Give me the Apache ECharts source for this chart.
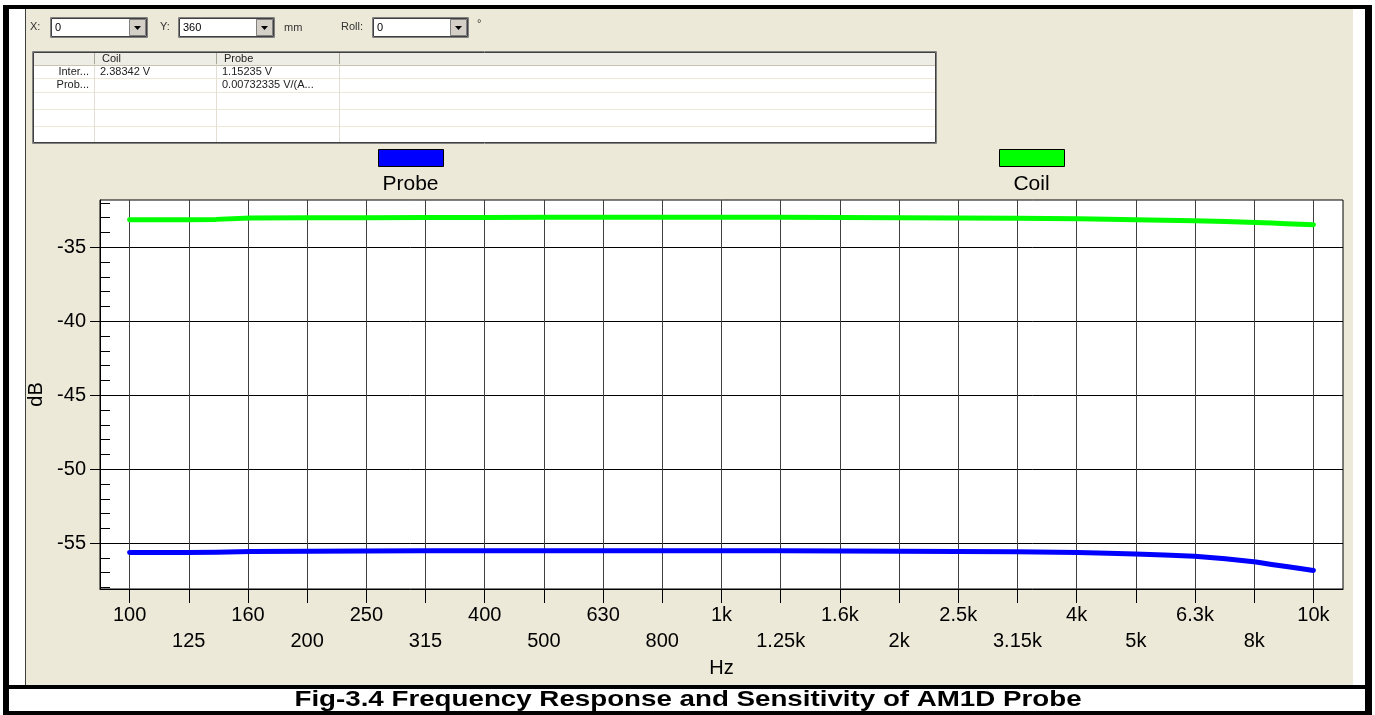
<!DOCTYPE html>
<html><head><meta charset="utf-8">
<script src="https://cdn.jsdelivr.net/npm/echarts@6/dist/echarts.min.js"></script>
<style>html,body{margin:0;padding:0;background:#fff}#c{width:1375px;height:715px}</style>
</head><body><div id="c"></div>
<script>
// ---------- data ----------
const freqs   = [100,125,140,160,200,250,315,400,500,630,800,1000,1250,1600,2000,2500,3150,4000,4500,5000,5600,6300,7100,8000,8500,9000,9500,10000];
const coilDb  = [-33.14,-33.13,-33.11,-33.02,-33.00,-33.00,-32.99,-32.98,-32.97,-32.96,-32.96,-32.96,-32.97,-32.98,-33.00,-33.02,-33.03,-33.07,-33.10,-33.13,-33.17,-33.21,-33.26,-33.32,-33.36,-33.41,-33.44,-33.47];
const probeDb = [-55.64,-55.63,-55.62,-55.56,-55.54,-55.53,-55.52,-55.52,-55.51,-55.51,-55.51,-55.51,-55.52,-55.53,-55.55,-55.57,-55.59,-55.63,-55.68,-55.74,-55.80,-55.88,-56.06,-56.28,-56.44,-56.58,-56.72,-56.85];
const bandFreqs  = [100,125,160,200,250,315,400,500,630,800,1000,1250,1600,2000,2500,3150,4000,5000,6300,8000,10000];
const bandLabels = ['100','125','160','200','250','315','400','500','630','800','1k','1.25k','1.6k','2k','2.5k','3.15k','4k','5k','6.3k','8k','10k'];
const yMajor = [-55,-50,-45,-40,-35];
const yMinor = [-58,-57,-56,-54,-53,-52,-51,-49,-48,-47,-46,-44,-43,-42,-41,-39,-38,-37,-36,-34,-33,-32];
const tableHead = ['', 'Coil', 'Probe'];
const tableRows = [['Inter...', '2.38342 V', '1.15235 V'], ['Prob...', '', '0.00732335 V/(A...']];
const ctrlX = '0', ctrlY = '360', ctrlRoll = '0';
const caption = 'Fig-3.4 Frequency Response and Sensitivity of AM1D Probe';

const FONT = "'Liberation Sans', Arial, sans-serif";
const bandIdx = bandFreqs.map((f, i) => i);
const xMinHz = 100 / Math.pow(10, 0.05), xMaxHz = 10000 * Math.pow(10, 0.05);
const GRID = {left:100, top:200, width:1243, height:389};

// ---------- chrome (UI frame, controls, table) ----------
const g = [];
function rect(x, y, w, h, fill, stroke, lw, z) { g.push({type:'rect', silent:true, z: z == null ? -10 : z, shape:{x, y, width:w, height:h}, style:{fill: fill || 'none', stroke: stroke || null, lineWidth: lw || 0}}); }
function text(t, x, y, font, align, color, sx) {
  const el = {type:'text', silent:true, z:-8, style:{text:t, x:0, y:0, font, fill: color || '#000', textAlign: align || 'left', align: align || 'left', textVerticalAlign:'middle', verticalAlign:'middle'}, x, y};
  if (sx) el.scaleX = sx;
  g.push(el);
}
rect(26, 9, 1327, 676, '#ECE9D8');
rect(GRID.left, GRID.top, GRID.width, GRID.height, '#fff', null, 0, -9);
rect(25, 9, 1, 676, '#404040');
rect(3, 5, 6, 709, '#000');
rect(1365, 5, 7, 709, '#000');
rect(3, 5, 1369, 4, '#000');
rect(3, 685, 1369, 4, '#000');
rect(3, 711, 1369, 4, '#000');
text(caption, 688, 700, "bold 22px " + FONT, 'center', '#000', 1.26);

const uiFont = "11px " + FONT;
function combo(x, w, val) {
  const y = 17, h = 21;
  rect(x, y, w, h, '#fff');
  rect(x + 0.5, y + 0.5, w - 1, h - 1, null, '#808080', 1);
  rect(x + 1.5, y + 1.5, w - 3, h - 3, null, '#404040', 1);
  text(val, x + 5, y + h / 2, uiFont, 'left');
  const bx = x + w - 19, by = y + 2, bw = 17, bh = h - 4;
  rect(bx, by, bw, bh, '#D4D0C8');
  rect(bx + 0.5, by + 0.5, bw - 1, bh - 1, null, '#808080', 1);
  g.push({type:'polygon', silent:true, z:-8, shape:{points:[[bx + 5, by + 7], [bx + 12, by + 7], [bx + 8.5, by + 11]]}, style:{fill:'#000'}});
}
text('X:', 30, 27, uiFont, 'left', '#333');
combo(50, 98, ctrlX);
text('Y:', 160, 27, uiFont, 'left', '#333');
combo(178, 97, ctrlY);
text('mm', 284, 28, uiFont, 'left', '#333');
text('Roll:', 341, 27, uiFont, 'left', '#333');
combo(372, 97, ctrlRoll);
text('°', 477, 24, uiFont, 'left', '#333');

// table
const tX = 32, tY = 51, tW = 905, tH = 93;
const colX = [32, 94, 216, 339, 937];
const rowY = [51, 66, 78, 92, 109, 126, 143];
rect(tX, tY, tW, tH, '#fff');
rect(tX, rowY[0], tW, rowY[1] - rowY[0], '#EEEDE5');
for (let r = 2; r < rowY.length - 1; r++) rect(tX, rowY[r], tW, 1, '#ECE9D8');
for (let c = 1; c < colX.length - 1; c++) rect(colX[c], rowY[0], 1, tH, '#E2DFD2');
rect(tX, rowY[1] - 1, tW, 1, '#C7C5B2');
for (let c = 1; c < 4; c++) rect(colX[c], rowY[0] + 2, 1, rowY[1] - rowY[0] - 4, '#ACA899');
rect(tX + 0.5, tY + 0.5, tW - 1, tH - 1, null, '#808080', 1);
rect(tX + 1.5, tY + 1.5, tW - 3, tH - 3, null, '#404040', 1);
tableHead.forEach((h, c) => { if (h) text(h, colX[c] + 8, (rowY[0] + rowY[1]) / 2, uiFont, 'left', '#222'); });
tableRows.forEach((row, r) => {
  row.forEach((v, c) => {
    if (!v) return;
    const cy = (rowY[r + 1] + rowY[r + 2]) / 2;
    if (c === 0) text(v, colX[1] - 5, cy, uiFont, 'right', '#222');
    else text(v, colX[c] + 6, cy, uiFont, 'left', '#222');
  });
});

// legend labels (under the legend swatches)
text('Probe', 410.5, 184, "21px " + FONT, 'center');
text('Coil', 1031.5, 184, "21px " + FONT, 'center');

// ---------- chart ----------
const chart = echarts.init(document.getElementById('c'));
const legendCommon = {icon:'rect', itemWidth:65, itemHeight:17, top:149, padding:0, formatter: () => '', selectedMode:false,
  itemStyle:{borderColor:'#000', borderWidth:1}, textStyle:{fontSize:1}};
chart.setOption({
  animation:false,
  backgroundColor:'transparent',
  graphic:{elements:g},
  legend:[Object.assign({data:['Probe'], left:378}, legendCommon), Object.assign({data:['Coil'], left:999}, legendCommon)],
  grid:Object.assign({show:true, backgroundColor:'#fff', borderColor:'#000', borderWidth:1, containLabel:false}, GRID),
  xAxis:[
    {type:'log', logBase:10, min:xMinHz, max:xMaxHz, show:false, position:'bottom'},
    {type:'value', min:-0.5, max:20.5, position:'bottom',
     name:'Hz', nameLocation:'middle', nameGap:68, nameTextStyle:{fontSize:20, fontFamily:FONT, color:'#000'},
     axisLine:{show:true, onZero:false, lineStyle:{color:'#000', width:1}},
     axisTick:{show:true, customValues:bandIdx, length:14, lineStyle:{color:'#000', width:1}},
     axisLabel:{show:true, customValues:bandIdx, margin:13, fontSize:20, fontFamily:FONT, color:'#000', lineHeight:26,
       formatter:(v) => { const i = Math.round(v); return (i % 2 === 0) ? bandLabels[i] : '\n' + bandLabels[i]; }},
     splitLine:{show:true, lineStyle:{color:'#404040', width:1}}}
  ],
  yAxis:[
    {type:'value', min:-58.1, max:-31.8, position:'left',
     name:'dB', nameLocation:'middle', nameGap:43, nameTextStyle:{fontSize:20, fontFamily:FONT, color:'#000'},
     axisLine:{show:true, onZero:false, lineStyle:{color:'#000', width:1}},
     axisTick:{show:true, customValues:yMajor, length:10, lineStyle:{color:'#000', width:1}},
     axisLabel:{show:true, customValues:yMajor, margin:14, fontSize:20, fontFamily:FONT, color:'#000'},
     splitLine:{show:true, lineStyle:{color:'#000', width:1}}},
    {type:'value', min:-58.1, max:-31.8, position:'left',
     axisLine:{show:false, onZero:false}, axisLabel:{show:false}, splitLine:{show:false},
     axisTick:{show:true, inside:true, customValues:yMinor, length:10, lineStyle:{color:'#000', width:1}}}
  ],
  series:[
    {name:'Probe', type:'line', xAxisIndex:0, yAxisIndex:0, showSymbol:false, symbol:'none', color:'#0000FF',
     lineStyle:{color:'#0000FF', width:5, cap:'round', join:'round'}, data:freqs.map((f, i) => [f, probeDb[i]])},
    {name:'Coil', type:'line', xAxisIndex:0, yAxisIndex:0, showSymbol:false, symbol:'none', color:'#00FF00',
     lineStyle:{color:'#00FF00', width:5, cap:'round', join:'round'}, data:freqs.map((f, i) => [f, coilDb[i]])}
  ]
});
</script></body></html>
